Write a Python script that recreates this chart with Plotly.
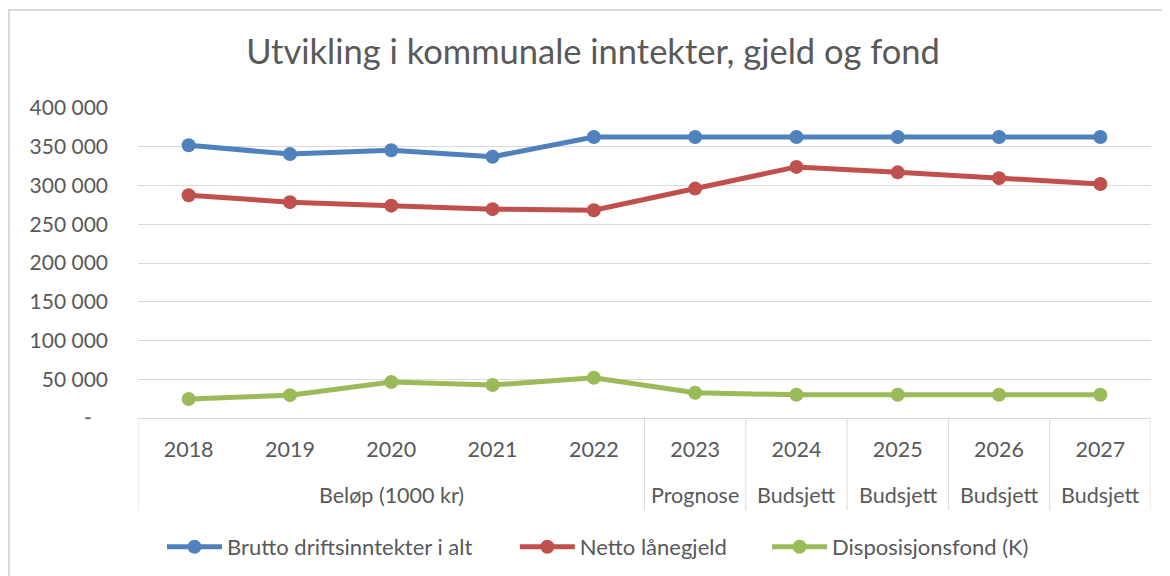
import plotly.graph_objects as go

# data (1000 kr)
years = ["2018", "2019", "2020", "2021", "2022", "2023", "2024", "2025", "2026", "2027"]
groups = ["Beløp (1000 kr)", "Prognose", "Budsjett", "Budsjett", "Budsjett", "Budsjett"]
group_pos = [2, 5, 6, 7, 8, 9]
dividers = [-0.5, 4.5, 5.5, 6.5, 7.5, 8.5, 9.5]

brutto = [352000, 340500, 345500, 337000, 362500, 362500, 362500, 362500, 362500, 362500]
netto = [287500, 278500, 274000, 269500, 268000, 296000, 324000, 317000, 309500, 302000]
dispfond = [24500, 29500, 46500, 42500, 52000, 32500, 30000, 30000, 30000, 30000]

names = ["Brutto driftsinntekter i alt", "Netto lånegjeld", "Disposisjonsfond (K)"]
colors = ["#4F81BD", "#C0504D", "#9BBB59"]
legend_x = [0.0237, 0.372, 0.621]

tickvals = [0, 50000, 100000, 150000, 200000, 250000, 300000, 350000, 400000]
ticktext = ["-\u00a0\u00a0\u00a0", "50 000", "100 000", "150 000", "200 000",
            "250 000", "300 000", "350 000", "400 000"]

FONT = "Lato, 'Open Sans', sans-serif"
GREY = "#595959"
LINE = "#D9D9D9"

fig = go.Figure()
legend_ids = ["legend", "legend2", "legend3"]
for name, vals, col, lg in zip(names, [brutto, netto, dispfond], colors, legend_ids):
    fig.add_trace(go.Scatter(
        x=years, y=vals, name=name, mode="lines+markers", legend=lg,
        line=dict(color=col, width=5), marker=dict(color=col, size=14)
    ))

leg = dict(orientation="h", xanchor="left", y=-0.416, yanchor="middle",
           font=dict(size=22, color=GREY), itemwidth=55, bgcolor="rgba(0,0,0,0)")

# the page body adds an 8px offset, margins are set with that in mind
fig.update_layout(
    width=1170, height=576,
    margin=dict(l=130, r=27, t=100, b=166),
    paper_bgcolor="white", plot_bgcolor="white",
    font=dict(family=FONT, size=21, color=GREY),
    title=dict(text="Utvikling i kommunale inntekter, gjeld og fond",
               x=0.500, xanchor="center", y=0.9236, yanchor="middle",
               font=dict(family=FONT, size=34.5, color=GREY)),
    showlegend=True,
    legend=dict(leg, x=legend_x[0]),
    legend2=dict(leg, x=legend_x[1]),
    legend3=dict(leg, x=legend_x[2]),
)
fig.update_xaxes(
    type="category", range=[-0.5, 9.5], showgrid=False,
    showline=True, linecolor=LINE, linewidth=1,
    ticks="", ticklabelstandoff=12, tickfont=dict(size=21.5, color=GREY)
)
fig.update_yaxes(
    range=[0, 400000], tickvals=tickvals, ticktext=ticktext,
    showgrid=True, gridcolor=LINE, gridwidth=1, zeroline=False, showline=False,
    ticks="", ticklabelstandoff=29, tickfont=dict(size=21, color=GREY)
)

# second level of the category axis
for g, p in zip(groups, group_pos):
    fig.add_annotation(x=p, y=-0.248, xref="x", yref="paper", text=g,
                       showarrow=False, yanchor="middle",
                       font=dict(size=21.5, color=GREY))
for d in dividers:
    fig.add_shape(type="line", xref="x", yref="paper", x0=d, x1=d, y0=0, y1=-0.297,
                  line=dict(color=LINE, width=1))

# chart area border
fig.add_shape(type="rect", xref="paper", yref="paper",
              x0=-0.1274, x1=1.05, y0=1.3165, y1=-0.6,
              line=dict(color=LINE, width=2), layer="below")

fig.write_html("out.html")
